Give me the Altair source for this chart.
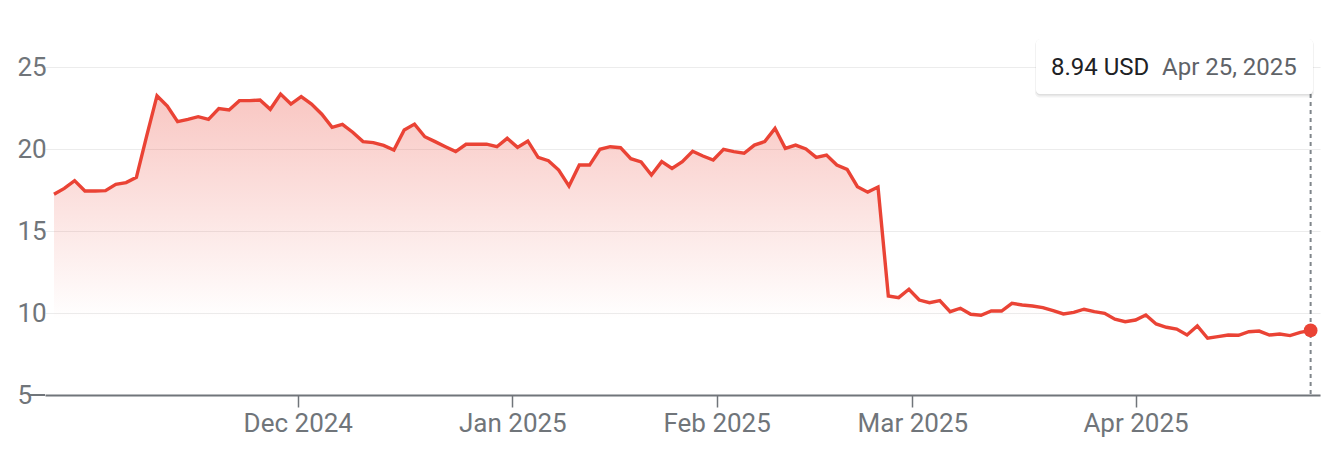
import altair as alt
import pandas as pd

# Closing prices, one per trading day (Oct 28, 2024 -> Apr 25, 2025)
prices = [
    17.24, 17.60, 18.07, 17.44, 17.44, 17.46, 17.85, 17.95, 18.27, 20.80,
    23.25, 22.62, 21.67, 21.81, 21.97, 21.81, 22.46, 22.38, 22.95, 22.95,
    22.99, 22.42, 23.35, 22.74, 23.19, 22.74, 22.12, 21.32, 21.50, 21.02,
    20.45, 20.39, 20.22, 19.94, 21.16, 21.52, 20.75, 20.45, 20.14, 19.84,
    20.29, 20.29, 20.30, 20.14, 20.65, 20.10, 20.49, 19.49, 19.29, 18.72,
    17.74, 19.02, 19.02, 19.98, 20.14, 20.08, 19.41, 19.21, 18.41, 19.23,
    18.82, 19.23, 19.86, 19.57, 19.33, 19.98, 19.84, 19.74, 20.24, 20.45,
    21.26, 20.04, 20.24, 20.00, 19.49, 19.63, 19.02, 18.76, 17.70, 17.37,
    17.68, 11.04, 10.94, 11.45, 10.79, 10.63, 10.75, 10.08, 10.29, 9.92,
    9.86, 10.12, 10.12, 10.59, 10.49, 10.43, 10.33, 10.14, 9.94, 10.04,
    10.23, 10.08, 9.98, 9.62, 9.47, 9.57, 9.88, 9.33, 9.13, 9.02,
    8.66, 9.21, 8.46, 8.56, 8.66, 8.64, 8.86, 8.90, 8.66, 8.72,
    8.62, 8.82, 8.94,
]

# Month tick positions (in trading-day index units) and their labels
tick_pos = [23.667, 44.5, 64.333, 83.333, 105]
tick_labels = ["Dec 2024", "Jan 2025", "Feb 2025", "Mar 2025", "Apr 2025"]
y_ticks = [5, 10, 15, 20, 25]
last_date_label = "Apr 25, 2025"
currency = "USD"

n = len(prices)
df = pd.DataFrame({"i": list(range(n)), "price": prices})

W, H = 1275, 328
RED = "#ea4335"
GRAY = "#70757a"

label_expr = "[" + ",".join(f"'{t}'" for t in tick_labels) + "][indexof([" + \
    ",".join(str(p) for p in tick_pos) + "], datum.value)]"

x_enc = alt.X(
    "i:Q",
    scale=alt.Scale(domain=[-0.874, n - 1 + 0.91], nice=False, zero=False),
    axis=alt.Axis(
        values=tick_pos, labelExpr=label_expr, grid=False,
        domainColor=GRAY, domainWidth=2, tickColor=GRAY, tickWidth=1.5,
        tickSize=12, labelPadding=3, labelFontSize=26, labelColor=GRAY,
        labelFont="Roboto", labelFlush=False, labelOverlap=False,
    ),
    title=None,
)
y_enc = alt.Y(
    "price:Q",
    scale=alt.Scale(domain=[5, 25], nice=False, zero=False),
    axis=alt.Axis(
        values=y_ticks, grid=True, gridColor="#ececec", gridWidth=1.2,
        domain=False, ticks=False, labelAlign="left", labelBaseline="middle",
        labelPadding=28, labelFontSize=26, labelColor=GRAY, labelFont="Roboto",
    ),
    title=None,
)

base = alt.Chart(df)

area = base.mark_area(
    color=alt.Gradient(
        gradient="linear",
        stops=[
            alt.GradientStop(color="rgba(234,67,53,0.30)", offset=0),
            alt.GradientStop(color="rgba(234,67,53,0)", offset=0.75),
        ],
        x1=0, x2=0, y1=0, y2=1,
    )
).encode(x=x_enc, y=y_enc, y2=alt.datum(5))

line = base.mark_line(color=RED, strokeWidth=3.4).encode(x=x_enc, y=y_enc)

last = base.transform_filter(f"datum.i == {n - 1}")

axis_ext = last.mark_rule(color=GRAY, strokeWidth=2).encode(
    x=alt.value(-15), x2=alt.value(0), y=alt.value(H)
)

vrule = last.mark_rule(color="#80868b", strokeWidth=2, strokeDash=[4, 4]).encode(
    x=x_enc, y=alt.value(27), y2=alt.value(H)
)

dot = last.mark_circle(size=190, color=RED, opacity=1).encode(x=x_enc, y=y_enc)

shadow1 = last.mark_rect(color="black", opacity=0.05, cornerRadius=5).encode(
    x=alt.value(990), x2=alt.value(1269), y=alt.value(-27), y2=alt.value(30.5)
)
shadow2 = last.mark_rect(color="black", opacity=0.08, cornerRadius=4).encode(
    x=alt.value(991), x2=alt.value(1268), y=alt.value(-28), y2=alt.value(28.5)
)
box = last.mark_rect(color="white", cornerRadius=4).encode(
    x=alt.value(991), x2=alt.value(1268), y=alt.value(-28), y2=alt.value(27)
)
txt_price = last.mark_text(
    align="left", baseline="alphabetic", fontSize=24, font="Roboto", color="#202124"
).encode(
    x=alt.value(1006), y=alt.value(8),
    text=alt.value(f"{prices[-1]:.2f} {currency}"),
)
txt_date = last.mark_text(
    align="left", baseline="alphabetic", fontSize=24, font="Roboto", color="#5f6368"
).encode(
    x=alt.value(1117), y=alt.value(8), text=alt.value(last_date_label)
)

chart = alt.layer(
    axis_ext, area, line, vrule, dot, shadow1, shadow2, box, txt_price, txt_date
).properties(
    width=W, height=H,
    autosize=alt.AutoSizeParams(type="none"),
    padding={"left": 37, "top": 59, "right": 12, "bottom": 57},
).configure_view(stroke=None)

chart.save("out.html", embed_options={"renderer": "svg", "actions": False})
